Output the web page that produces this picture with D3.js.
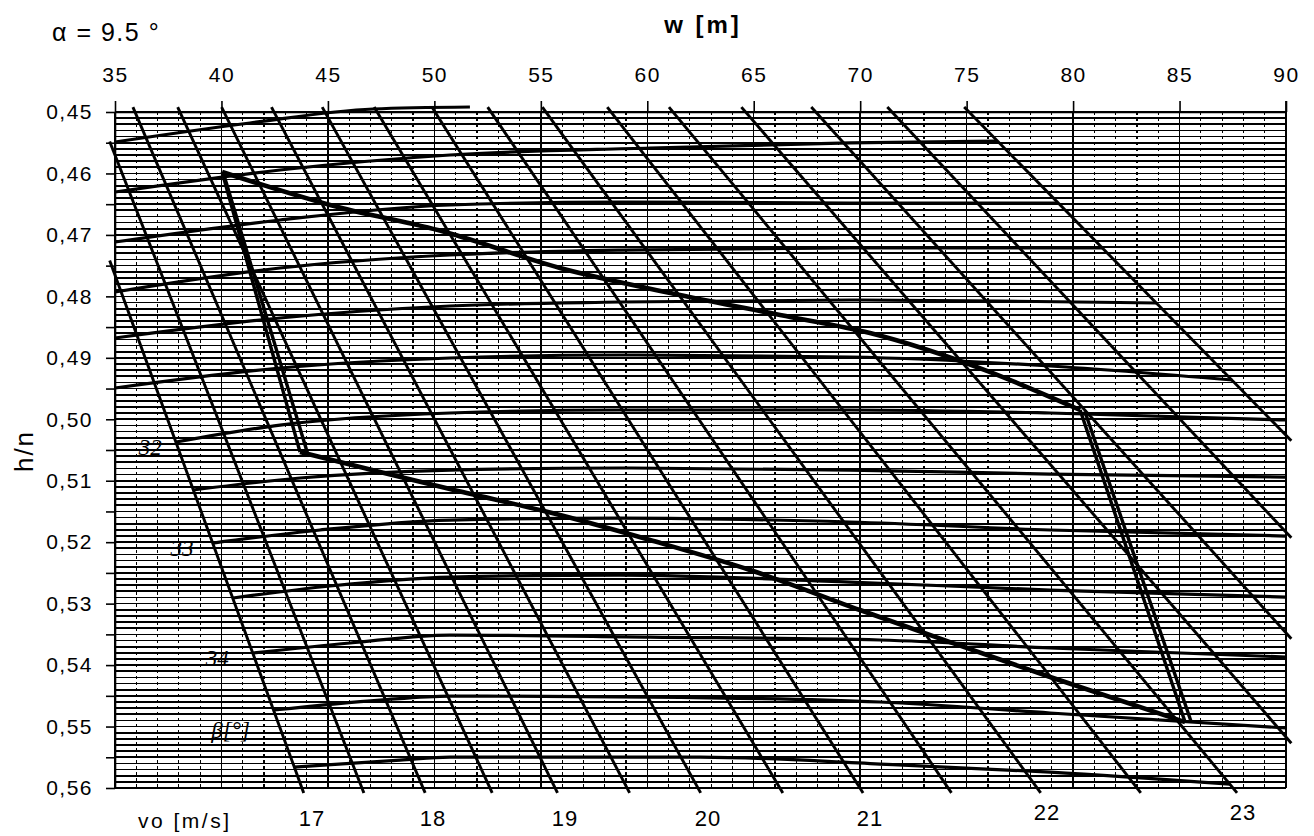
<!DOCTYPE html>
<html><head><meta charset="utf-8">
<script src="https://cdn.jsdelivr.net/npm/d3@7"></script>
<style>
body{margin:0;background:#fff;}
svg text{font-family:"Liberation Sans",Arial,sans-serif;fill:#000;}
</style>
</head><body>
<svg id="chart" width="1314" height="836"></svg>
<script>
// ---------- data ----------
const wTicks = [35,40,45,50,55,60,65,70,75,80,85,90];
const hTicks = d3.range(0,23).map(i => +(0.45 + i*0.005).toFixed(3));
const hGridValues = d3.range(0,111).map(i => +(0.45 + i*0.001).toFixed(3));
const wGridValues = d3.range(35,91);

// vo lines (constant vo): w where each straight line crosses h=0.45 and h=0.56
const voValues  = [17,17.5,18,18.5,19,19.5,20,20.5,21,21.5,22,22.5,23,23.5,24,24.5,25];
const voTopW    = [32.21,34.21,35.94,38.05,40.12,42.47,44.86,47.31,50.03,52.66,55.24,58.30,61.21,64.62,67.91,71.49,75.11];
const voBottomW = [43.78,46.60,49.47,52.61,55.67,59.05,62.38,66.23,69.99,74.13,78.31,83.00,87.51,92.07,96.58,101.27,106.25];
const voLabelValues = [17,18,19,20,21,22,23];

// beta lines (w, h/n)
const beta290 = [[35,0.45488],[41.34,0.45179],[47.12,0.44951],[51.67,0.44919]];
const beta295 = [[35,0.46302],[42.75,0.45944],[50.73,0.45700],[60.13,0.45586],[69.52,0.45504],[76.43,0.45472]];
const beta300 = [[35,0.47116],[42.75,0.46757],[50.73,0.46513],[58.72,0.46465],[69.52,0.46481],[79.29,0.46481]];
const beta305 = [[35,0.47929],[42.75,0.47539],[50.73,0.47327],[58.72,0.47246],[69.52,0.47213],[81.38,0.47213]];
const beta310 = [[35,0.48678],[42.75,0.48352],[50.73,0.48157],[58.72,0.48092],[69.52,0.48059],[76.57,0.48076],[83.90,0.48108]];
const beta315 = [[35,0.49491],[42.75,0.49166],[50.73,0.49003],[58.72,0.48954],[69.52,0.48987],[78.92,0.49133],[87.47,0.49361]];
const beta320 = [[37.87,0.50370],[42.75,0.50094],[50.73,0.49898],[58.72,0.49849],[69.52,0.49849],[78.92,0.49898],[90,0.50012]];
const beta325 = [[38.66,0.51151],[43.69,0.50956],[50.73,0.50826],[58.72,0.50793],[69.52,0.50826],[78.92,0.50891],[90,0.50940]];
const beta330 = [[39.60,0.52014],[44.63,0.51802],[50.73,0.51640],[58.72,0.51607],[69.52,0.51672],[78.92,0.51802],[90,0.51900]];
const beta335 = [[40.54,0.52909],[45.10,0.52713],[50.73,0.52567],[58.72,0.52535],[69.52,0.52649],[78.92,0.52779],[90,0.52893]];
const beta340 = [[41.48,0.53804],[46.04,0.53641],[50.73,0.53511],[60.13,0.53544],[70.93,0.53592],[78.92,0.53722],[90,0.53869]];
const beta345 = [[42.47,0.54731],[47.45,0.54569],[50.73,0.54504],[60.13,0.54520],[70.93,0.54601],[78.92,0.54780],[90,0.55024]];
const beta350 = [[43.41,0.55659],[48.39,0.55545],[50.73,0.55496],[62.48,0.55496],[70.93,0.55610],[78.92,0.55741],[87.37,0.55936]];
const betaLabelText = ["32","33","34","\u03B2[\u00B0]"];
const betaLabelH    = [0.5037,0.5201,0.5380,0.5497];

// envelope of the working region
const upperEnvelope = [[40.03,0.45976],[45.10,0.46513],[50.50,0.46953],[55.90,0.47539],[61.54,0.47978],[66.24,0.48304],[70.46,0.48596],[75.86,0.49199],[80.33,0.49849]];
const lowerEnvelope = [[43.69,0.50533],[47.45,0.50858],[50.73,0.51135],[55.90,0.51558],[60.13,0.51965],[64.83,0.52453],[69.99,0.53104],[74.22,0.53625],[78.92,0.54194],[85.26,0.54927]];
const leftEdgeA  = [[40.03,0.45976],[43.69,0.50533]];
const leftEdgeB  = [[40.12,0.46030],[44.05,0.50560]];
const rightEdgeA = [[80.33,0.49849],[85.26,0.54927]];
const rightEdgeB = [[80.55,0.49870],[85.55,0.54927]];

// ---------- drawing ----------
const svg = d3.select("#chart");
const x = d3.scaleLinear().domain([35,90]).range([115,1286]);
const y = d3.scaleLinear().domain([0.45,0.56]).range([112,788]);
const line = d3.line().x(d => x(d[0])).y(d => y(d[1]));
const smooth = d3.line().x(d => x(d[0])).y(d => y(d[1])).curve(d3.curveMonotoneX);

const grid = svg.append("g");
grid.selectAll("line.h").data(hGridValues).join("line")
  .attr("x1", x(35)).attr("x2", x(90))
  .attr("y1", d => y(d)).attr("y2", d => y(d))
  .attr("stroke","#000").attr("stroke-width",1.7)
  .attr("shape-rendering","crispEdges");
grid.selectAll("line.v").data(wGridValues).join("line")
  .attr("x1", d => x(d)).attr("x2", d => x(d))
  .attr("y1", y(0.45)).attr("y2", y(0.56))
  .attr("stroke","#000")
  .attr("stroke-width", d => d % 5 === 0 ? 1.5 : 1.2)
  .attr("stroke-dasharray", d => (d % 5 === 0 || d === 35 || d === 90) ? null : "3,3")
  .attr("shape-rendering","crispEdges");

// axes
const topAxis = svg.append("g").attr("transform",`translate(0,${y(0.45)})`)
  .call(d3.axisTop(x).tickValues(wTicks).tickSize(11).tickSizeOuter(0).tickPadding(19).tickFormat(d3.format("d")));
const leftAxis = svg.append("g").attr("transform",`translate(${x(35)},0)`)
  .call(d3.axisLeft(y).tickValues(hTicks).tickSize(9).tickSizeOuter(0).tickPadding(13)
    .tickFormat(d => Math.round(d*1000) % 10 === 0 ? d3.format(".2f")(d).replace(".",",") : ""));
[topAxis,leftAxis].forEach(g => {
  g.attr("font-family",null).attr("font-size",null);
  g.select(".domain").attr("stroke","#000").attr("stroke-width",1.6);
  g.selectAll(".tick line").attr("stroke","#000").attr("stroke-width",1.6);
  g.selectAll(".tick text").attr("font-size","21px").style("letter-spacing","1.5px").attr("fill","#000");
});
// right frame
svg.append("line").attr("x1",x(90)).attr("x2",x(90)).attr("y1",y(0.45)-11).attr("y2",y(0.56))
  .attr("stroke","#000").attr("stroke-width",1.8);

// vo lines
const hMin = 0.4492, hMax = 0.5608, wMin = 34.75, wMax = 90.25;
function voSegment(wt, wb){
  const hOf = w => 0.45 + (w - wt)/(wb - wt)*0.11;
  const wOf = h => wt + (wb - wt)*(h - 0.45)/0.11;
  const h0 = Math.max(hMin, hOf(wMin)), h1 = Math.min(hMax, hOf(wMax));
  return [[wOf(h0),h0],[wOf(h1),h1]];
}
const voData = voValues.map((v,i) => ({vo:v, seg: voSegment(voTopW[i], voBottomW[i]), wb: voBottomW[i]}));
svg.append("g").selectAll("path").data(voData).join("path")
  .attr("d", d => line(d.seg)).attr("fill","none")
  .attr("stroke","#000").attr("stroke-width",2.9);

// beta lines
const betaSeries = [beta290,beta295,beta300,beta305,beta310,beta315,beta320,beta325,beta330,beta335,beta340,beta345,beta350];
svg.append("g").selectAll("path").data(betaSeries).join("path")
  .attr("d", d => smooth(d)).attr("fill","none")
  .attr("stroke","#000").attr("stroke-width",3.2);

// envelope
svg.append("path").attr("d", smooth(upperEnvelope)).attr("fill","none").attr("stroke","#000").attr("stroke-width",4.6);
svg.append("path").attr("d", smooth(lowerEnvelope)).attr("fill","none").attr("stroke","#000").attr("stroke-width",4.6);
[leftEdgeA,leftEdgeB,rightEdgeA,rightEdgeB].forEach(s =>
  svg.append("path").attr("d", line(s)).attr("fill","none").attr("stroke","#000").attr("stroke-width",3.4));

// vo labels
svg.append("g").selectAll("text").data(voLabelValues).join("text")
  .attr("x", v => x(voData[voValues.indexOf(v)].wb) + 10)
  .attr("y", v => v >= 22 ? 820 : 826).attr("text-anchor","middle")
  .attr("font-size","22px").style("letter-spacing","1px")
  .text(v => v);
svg.append("text").attr("x",138).attr("y",828).attr("font-size","21px")
  .style("letter-spacing","2.5px").text("vo [m/s]");

// beta labels
const vo17w = h => voTopW[0] + (voBottomW[0]-voTopW[0])*(h-0.45)/0.11;
svg.append("g").selectAll("text").data(betaLabelText).join("text")
  .attr("x",(t,i) => x(vo17w(betaLabelH[i])) - 14 - i*5)
  .attr("y",(t,i) => y(betaLabelH[i]) + 13)
  .attr("text-anchor","end")
  .style("font-family","'Liberation Serif',serif").style("font-style","italic")
  .attr("font-size","23px")
  .text(t => t);

// titles
svg.append("text").attr("x",52).attr("y",41).attr("font-size","25px")
  .style("letter-spacing","1.5px").text("\u03B1 = 9.5 \u00B0");
svg.append("text").attr("x",703).attr("y",33).attr("text-anchor","middle")
  .attr("font-size","24px").attr("font-weight","bold").style("letter-spacing","3px").text("w [m]");
svg.append("text").attr("transform","translate(33,451) rotate(-90)").attr("text-anchor","middle")
  .attr("font-size","26px").style("letter-spacing","2px").text("h/n");
</script>
</body></html>
